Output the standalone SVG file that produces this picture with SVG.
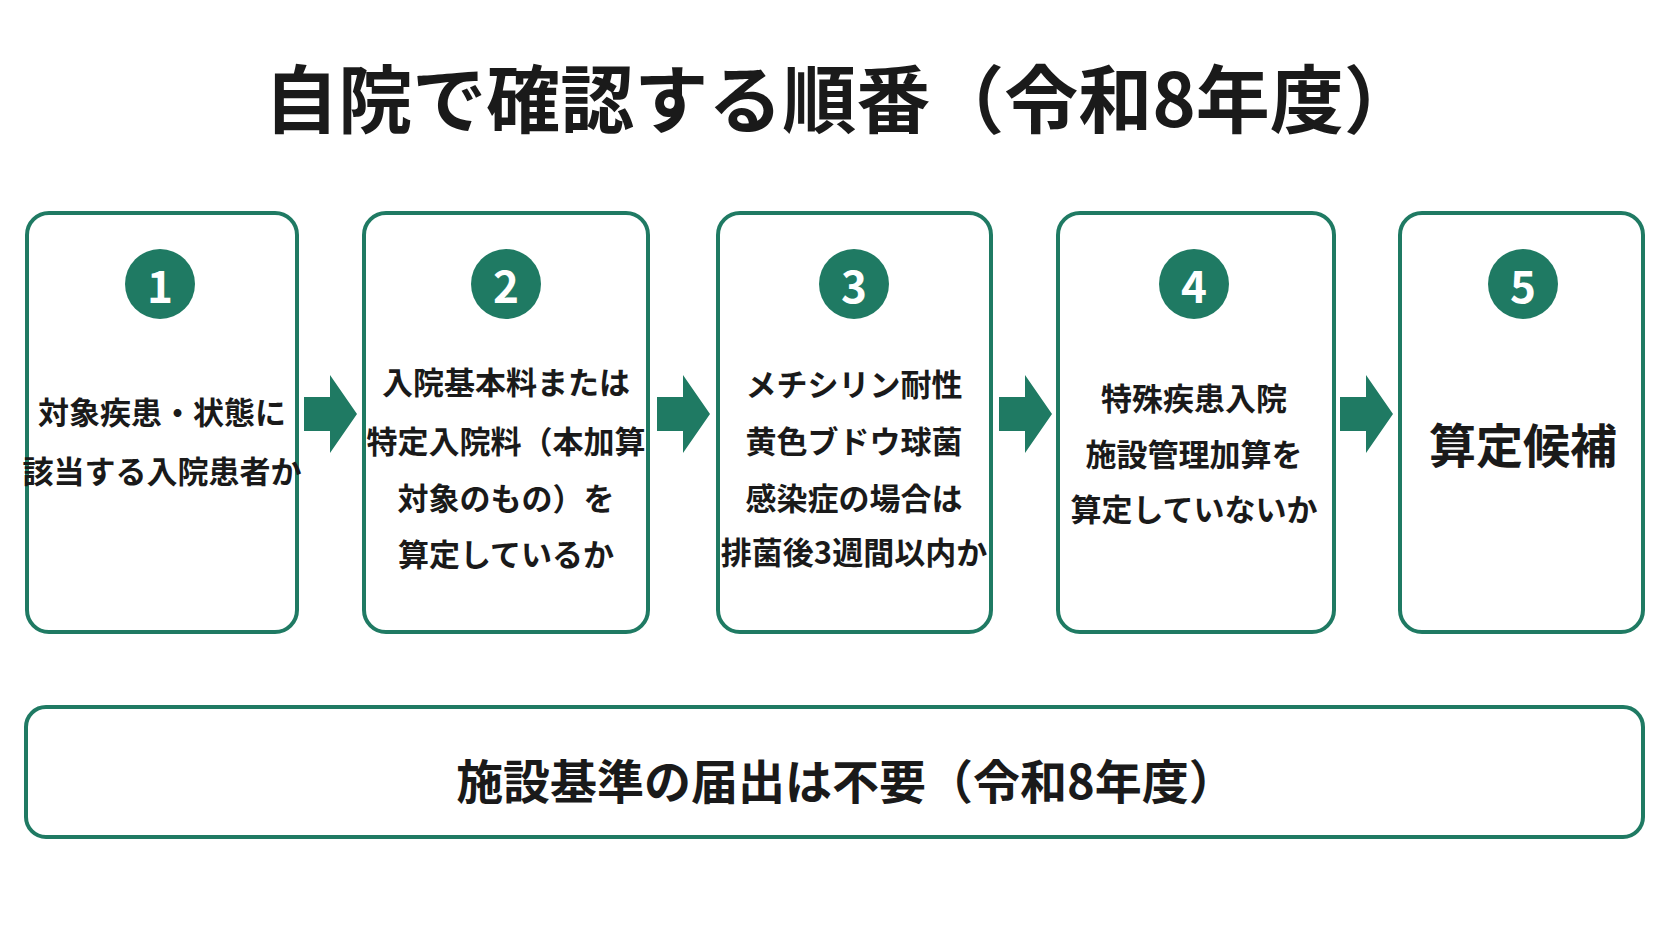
<svg xmlns="http://www.w3.org/2000/svg" width="1672" height="941" viewBox="0 0 1672 941">
<style>
.box{fill:#fff;stroke:#1f7a63;stroke-width:4}
.num{fill:#1f7a63}
.nt{fill:#fff;font:bold 44px "Noto Sans CJK JP",sans-serif;text-anchor:middle;dominant-baseline:central}
.t{fill:#1a1a1a;font:bold 31px "Noto Sans CJK JP",sans-serif;text-anchor:middle;dominant-baseline:central}
.arr{fill:#1f7a63}
</style>
<rect width="1672" height="941" fill="#fff"/>
<text x="841" y="94" style="fill:#1a1a1a;font:bold 74px 'Noto Sans CJK JP',sans-serif;text-anchor:middle;dominant-baseline:central">自院で確認する順番（令和8年度）</text>
<g id="connectors">
<polygon class="arr" points="304,397 330,397 330,375 357,414 330,453 330,431 304,431"/>
<polygon class="arr" points="657,397 683,397 683,375 710,414 683,453 683,431 657,431"/>
<polygon class="arr" points="999,397 1025,397 1025,375 1052,414 1025,453 1025,431 999,431"/>
<polygon class="arr" points="1340,397 1366,397 1366,375 1393,414 1366,453 1366,431 1340,431"/>
</g>
<g id="n1"><rect class="box" x="27" y="213" width="270" height="419" rx="22"/><circle class="num" cx="160" cy="284" r="35"/><text class="nt" x="160" y="284">1</text>
<text class="t" x="162" y="410">対象疾患・状態に</text><text class="t" x="162" y="469">該当する入院患者か</text></g>
<g id="n2"><rect class="box" x="364" y="213" width="284" height="419" rx="22"/><circle class="num" cx="506" cy="284" r="35"/><text class="nt" x="506" y="284">2</text>
<text class="t" x="506" y="380">入院基本料または</text><text class="t" x="506" y="439">特定入院料（本加算</text><text class="t" x="506" y="496">対象のもの）を</text><text class="t" x="506" y="552">算定しているか</text></g>
<g id="n3"><rect class="box" x="718" y="213" width="273" height="419" rx="22"/><circle class="num" cx="854" cy="284" r="35"/><text class="nt" x="854" y="284">3</text>
<text class="t" x="854" y="382">メチシリン耐性</text><text class="t" x="854" y="439">黄色ブドウ球菌</text><text class="t" x="854" y="496">感染症の場合は</text><text class="t" x="854" y="550">排菌後3週間以内か</text></g>
<g id="n4"><rect class="box" x="1058" y="213" width="276" height="419" rx="22"/><circle class="num" cx="1194" cy="284" r="35"/><text class="nt" x="1194" y="284">4</text>
<text class="t" x="1194" y="396">特殊疾患入院</text><text class="t" x="1194" y="452">施設管理加算を</text><text class="t" x="1194" y="507">算定していないか</text></g>
<g id="n5"><rect class="box" x="1400" y="213" width="243" height="419" rx="22"/><circle class="num" cx="1523" cy="284" r="35"/><text class="nt" x="1523" y="284">5</text>
<text class="t" x="1523" y="442" style="font-size:47px">算定候補</text></g>
<g id="note"><rect class="box" x="26" y="707" width="1617" height="130" rx="20"/>
<text class="t" x="846" y="778" style="font-size:47px">施設基準の届出は不要（令和8年度）</text></g>
</svg>
